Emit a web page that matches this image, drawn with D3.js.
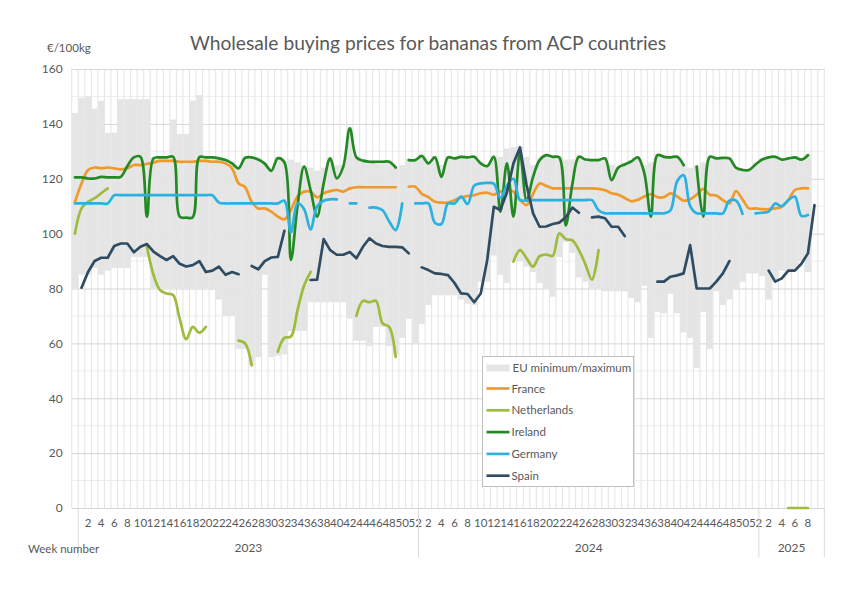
<!DOCTYPE html>
<html lang="en">
<head>
<meta charset="UTF-8" />
<title>Wholesale buying prices for bananas from ACP countries</title>
<script src="https://d3js.org/d3.v7.min.js"></script>
<style>
  body { margin: 0; background: #fff; font-family: Lato, "Open Sans", sans-serif; }
  svg { display: block; }
  text { fill: #595959; }
</style>
</head>
<body>
<svg width="853" height="594"></svg>
<script>
// category axis: one unlabelled lead week, then 2023, 2024, 2025 (last slot empty)
const yearGroups = [
  { year: "", weeks: [null] },
  { year: "2023", weeks: d3.range(1, 53) },
  { year: "2024", weeks: d3.range(1, 53) },
  { year: "2025", weeks: [...d3.range(1, 10), null] }
];
const yTicks = [0, 20, 40, 60, 80, 100, 120, 140, 160];

// EU minimum / maximum (EUR/100kg)
const euMin = [80,
  85, 85, 87.5, 85, 86.5, 87.5, 87.5, 87.5, 91.5, 91.5,
  91.5, 80, 80, 80, 80, 80, 80, 80, 80, 80,
  79.5, 76, 70, 70, 58, 58, 52, 55, 85, 55,
  55.5, 56, 64.5, 64.5, 64.5, 75, 75, 75, 75, 75,
  75, 69, 61, 61, 59, 66, 66, 59, 56, 62,
  69, 60,
  67, 74, 77.5, 77.5, 77.5, 77.5, 76, 74.5, 74, 82.5,
  82.5, 92, 85, 82, 90, 90, 88, 86, 82, 80,
  77, 91.5, 97, 93, 84, 82.5, 80, 80, 79, 79,
  79, 79, 76.5, 75, 81, 62, 71.5, 71, 78, 71,
  64, 62, 51, 71.5, 58, 79, 74, 76, 79.5, 82.5,
  85.5, 85.5,
  84.5, 76, 82.5, 86.5, 86.5, 86.5, 90, 86, null, null];
const euMax = [144,
  149.5, 150, 145.6, 148.4, 136.8, 136.8, 149, 149, 149, 149,
  149, 128, 128.3, 128.3, 141.6, 136.3, 136.3, 148.5, 150.5, 128.3,
  128.3, 128, 127.3, 126.1, 124.3, 128.1, 128.3, 127.5, 126, 123.4,
  128, 126.5, 127, 126, 124.9, 124, 123, 124, 127.9, 125,
  125, 138.9, 128.3, 127.1, 126.7, 126.7, 126.7, 126.7, 124.6, 125,
  127.3, 127.3,
  128.8, 126.1, 128.3, 125, 128.3, 127.9, 128.5, 128.3, 128.5, 126.1,
  125.1, 128.5, 128, 131, 131.5, 132, 128, 125, 127.3, 129.1,
  128.5, 128.3, 127, 127, 128.5, 127.5, 127.3, 127.3, 127.9, 125,
  124.5, 125.7, 126.8, 128.3, 125, 126, 129.1, 128.5, 128.3, 128.5,
  125.5, 124, 124.9, 126, 128.5, 127.9, 128.1, 127.9, 124.5, 123.7,
  123.7, 125.7,
  127.5, 128.3, 128.5, 127.5, 127.9, 128.3, 127.5, 129.1, null, null];

const france = [111.6,
  118.3, 123.2, 124.1, 123.8, 124.1, 123.8, 123.4, 123.8, 125, 125,
  125.4, 125.9, 126.5, 126.5, 126.5, 126.2, 126.2, 126.2, 126.5, 126.5,
  126.2, 126.2, 125.6, 123.8, 118.3, 116.9, 111.6, 109.2, 109.2, 108,
  106.2, 105.2, 108.6, 113.5, 115.3, 115.3, 113.2, 114.7, 115.5, 115.9,
  115.3, 116.5, 116.9, 116.9, 116.9, 116.9, 116.9, 116.9, 116.9, null,
  117.1, 117.1,
  114.5, 113.3, 111.6, 111.3, 111.3, 112.2, 113.2, 113.7, 114, 114.7,
  114.9, 114.2, 115.3, 116, 115.3, 112.3, 110.4, 114.5, 118.3, 117.4,
  116.5, 116.5, 116.5, 116.5, 116.5, 116.5, 116.5, 116.3, 115.8, 114.7,
  114.2, 113, 111.8, 112.3, 113.5, 114.4, 113.3, 113.3, 114.7, 113.6,
  112, 112.5, 114.2, 116.3, 114.2, 113.9, 112.2, 111, 115.5, 112.5,
  109.2, 109.2,
  108.9, 108.9, 109.2, 109.8, 112.2, 115.9, 116.5, 116.5, null, null];
const netherlands = [100,
  109.2, 111.6, 112.9, 114.7, 116.5, null, null, null, null, null,
  95.2, 85, 79.4, 78.2, 77.6, 69, 61.5, 66, 63.9, 66,
  null, null, null, null, 61, 60, 52, null, null, null,
  57, 62, 62.5, 72, 81, 86, null, null, null, null,
  null, null, 70, 75.5, 75, 75.5, 67.3, 66, 55.1, null,
  null, null,
  null, null, null, null, null, null, null, null, null, null,
  null, null, null, null, 89.8, 94, 91, 88, 91.8, 92.4,
  91.9, 100.1, 98, 97.5, 94, 88.8, 83.2, 94, null, null,
  null, null, null, null, null, null, null, null, null, null,
  null, null, null, null, null, null, null, null, null, null,
  null, null,
  null, null, null, null, 0, 0, 0, 0, null, null];
const ireland = [120.5,
  120.5, 120.1, 120.1, 120.7, 120.5, 120.5, 120.7, 124.6, 127.8, 128,
  106.2, 127.4, 127.8, 127.8, 128, 106.2, 105.8, 106, 127.8, 127.8,
  127.8, 127.4, 126.8, 125.6, 123.8, 127.6, 127.8, 127, 125.5, 122.9,
  127.5, 126, 90.4, 110, 124.4, 115.9, 106.2, 118.3, 127.4, 120.1,
  124.4, 138.4, 127.8, 126.6, 126.2, 126.2, 126.2, 126.2, 124.1, null,
  126.8, 126.8,
  128.3, 125.6, 127.8, 120.7, 127.8, 127.4, 128, 127.8, 128, 125.6,
  124.6, 128, 108, 125.6, 106.2, 129.5, 112, 120.7, 126.8, 128.6,
  128, 127.8, 103, 118, 128, 127, 126.8, 126.8, 127.4, 119.5,
  124, 125.2, 126.3, 127.8, 122, 106.2, 128.6, 128, 127.8, 128,
  125, null, 124.4, 106.2, 128, 127.4, 127.6, 127.4, 124, 123.2,
  123.2, 125.2,
  127, 127.8, 128, 127, 127.4, 127.8, 127, 128.6, null, null];
const germany = [111,
  111, 111, 111, 111, 111, 114, 114, 114, 114, 114,
  114, 114, 114, 114, 114, 114, 114, 114, 114, 114,
  114, 111.3, 111, 111, 111, 111, 111, 111, 111, 111,
  111, 112, 100.5, 111, 109, 101.5, 110, 112, 112.5, 112.5,
  null, 111, 111, null, 109.5, 109.5, 108.5, 104.5, 101.3, 111,
  null, 111,
  111, 111, 104, 103.5, 111, 111, 113.5, 110.8, 117.5, 118.3,
  118.5, 118.2, 113, 117.5, 120, 112.2, 112.2, 112.2, 112.2, 112.2,
  112.2, 112.2, 112.2, 112.2, 112.2, 112.2, 112.2, 108.5, 107.4, 107.4,
  107.4, 107.4, 107.4, 107.4, 107.4, 107.4, 107.4, 107.4, 108.5, 119,
  121.3, 110, 107.4, 107.4, 107.4, 107.4, 107.4, 112, 112, 107.2,
  null, 107.4,
  107.6, 108, 111, 110, 112.2, 113.5, 106.5, 106.8, null, null];
const spain = [null,
  80.3, 86, 90, 91.2, 91.2, 95.5, 96.4, 96.4, 93.2, 95.2,
  96.2, 93.4, 91.8, 90.4, 91.8, 89, 88, 88.5, 90, 86,
  86.5, 88, 85, 86, 85.2, null, 88.2, 87, 90, 91.3,
  91.5, 101, null, null, null, 83.1, 83.2, 98, 94, 92.3,
  92.3, 93.3, 91, 95.2, 98.3, 96.4, 95.5, 95.2, 95.2, 95,
  92.8, null,
  87.7, 86.7, 85.5, 85.3, 84.9, 82, 78.2, 78, 75, 78.2,
  90.5, 109.8, 108.6, 115, 125.6, 131.4, 117.7, 107.4, 102.5, 102.6,
  103.5, 104, 106, 109.5, 107.6, null, 105.9, 106.2, 105.6, 102.5,
  102.5, 99.1, null, null, null, null, 82.5, 82.5, 84.3, 84.8,
  85.5, 95.8, 80, 80, 80, 82.5, 85.5, 90, null, null,
  null, null,
  null, 86.5, 82.5, 83.7, 86.5, 86.5, 89, 92.8, 110.4, null];

const series = [
  { name: "France", color: "#EF9A2A", values: france, curve: d3.curveCatmullRom },
  { name: "Netherlands", color: "#9DBB3C", values: netherlands, curve: d3.curveCatmullRom },
  { name: "Ireland", color: "#238A23", values: ireland, curve: d3.curveCatmullRom },
  { name: "Germany", color: "#2BB0E2", values: germany, curve: d3.curveCatmullRom },
  { name: "Spain", color: "#2F4C62", values: spain, curve: d3.curveLinear }
];

// flatten categories
const cats = [];
yearGroups.forEach((g, gi) => g.weeks.forEach(w => cats.push({ group: gi, week: w })));

const svg = d3.select("svg");
const plotLeft = 71.7, plotRight = 824.3, plotTop = 69, plotBottom = 508;

const x = d3.scaleBand().domain(d3.range(cats.length)).range([plotLeft, plotRight]).padding(0);
const y = d3.scaleLinear().domain([0, 160]).range([plotBottom, plotTop]);
const bw = x.bandwidth();

// gridlines
const grid = svg.append("g");
grid.selectAll("line.minor")
  .data(d3.range(10, 160, 20))
  .join("line")
  .attr("x1", plotLeft).attr("x2", plotRight)
  .attr("y1", d => y(d)).attr("y2", d => y(d))
  .attr("stroke", "#eeeeee").attr("stroke-width", 1);
grid.selectAll("line.v")
  .data(d3.range(cats.length + 1))
  .join("line")
  .attr("x1", d => plotLeft + d * bw).attr("x2", d => plotLeft + d * bw)
  .attr("y1", plotTop).attr("y2", plotBottom)
  .attr("stroke", "#e4e4e4").attr("stroke-width", 1);

const yAxis = svg.append("g")
  .attr("transform", `translate(${plotLeft},0)`)
  .call(d3.axisLeft(y).tickValues(yTicks).tickSize(-(plotRight - plotLeft)).tickPadding(9));
yAxis.select(".domain").remove();
yAxis.selectAll(".tick line").attr("stroke", "#d6d6d6");
yAxis.selectAll(".tick text").attr("font-size", 12).attr("font-family", "Lato, sans-serif").attr("fill", "#595959");

// EU min/max floating bars
svg.append("g")
  .selectAll("rect")
  .data(cats.map((c, i) => i).filter(i => euMin[i] != null))
  .join("rect")
  .attr("x", i => x(i) + 0.25)
  .attr("width", bw - 0.5)
  .attr("y", i => y(euMax[i]))
  .attr("height", i => y(euMin[i]) - y(euMax[i]))
  .attr("fill", "#e5e5e5");

// country lines
series.forEach(s => {
  const line = d3.line()
    .defined(d => d != null)
    .x((d, i) => x(i) + bw / 2)
    .y(d => y(d))
    .curve(s.curve);
  svg.append("path")
    .datum(s.values)
    .attr("d", line)
    .attr("fill", "none")
    .attr("stroke", s.color)
    .attr("stroke-width", 2.7)
    .attr("stroke-linejoin", "round")
    .attr("stroke-linecap", "round");
});

// week labels
svg.append("g")
  .selectAll("text")
  .data(cats.map((c, i) => ({ ...c, i })).filter(c => c.week != null && c.week % 2 === 0))
  .join("text")
  .attr("x", d => x(d.i) + bw / 2)
  .attr("y", 527)
  .attr("text-anchor", "middle")
  .attr("font-size", 11.5)
  .text(d => d.week);

// year group separators and labels
const groupBounds = yearGroups.map((g, gi) => {
  const idx = cats.map((c, i) => i).filter(i => cats[i].group === gi);
  return { year: g.year, x0: x(idx[0]), x1: x(idx[idx.length - 1]) + bw };
}).filter(g => g.year !== "");
const seps = [groupBounds[0].x0, ...groupBounds.map(g => g.x1)];
svg.append("g")
  .selectAll("line")
  .data(seps)
  .join("line")
  .attr("x1", d => d).attr("x2", d => d)
  .attr("y1", plotBottom).attr("y2", 557)
  .attr("stroke", "#d9d9d9");
svg.append("g")
  .selectAll("text")
  .data(groupBounds)
  .join("text")
  .attr("x", d => (d.x0 + d.x1) / 2)
  .attr("y", 552)
  .attr("text-anchor", "middle")
  .attr("font-size", 12)
  .text(d => d.year);

svg.append("text").attr("x", 28).attr("y", 553).attr("font-size", 11.5).text("Week number");
svg.append("text").attr("x", 47).attr("y", 52).attr("font-size", 11.5).text("€/100kg");
svg.append("text").attr("x", 428).attr("y", 50).attr("text-anchor", "middle")
  .attr("font-size", 19.2).text("Wholesale buying prices for bananas from ACP countries");

// legend
const legend = svg.append("g").attr("transform", "translate(482.5,356.5)");
legend.append("rect").attr("width", 151).attr("height", 130)
  .attr("fill", "#fff").attr("stroke", "#bfbfbf");
legend.append("rect").attr("x", 4).attr("y", 8).attr("width", 23).attr("height", 7).attr("fill", "#e5e5e5");
legend.append("text").attr("x", 30).attr("y", 15.5).attr("font-size", 11.5).text("EU minimum/maximum");
const items = legend.selectAll("g.item")
  .data(series)
  .join("g")
  .attr("transform", (d, i) => `translate(0,${32 + i * 21.8})`);
items.append("line").attr("x1", 4).attr("x2", 27).attr("stroke", d => d.color).attr("stroke-width", 2.7);
items.append("text").attr("x", 29).attr("y", 4).attr("font-size", 11.5).text(d => d.name);
</script>
</body>
</html>
